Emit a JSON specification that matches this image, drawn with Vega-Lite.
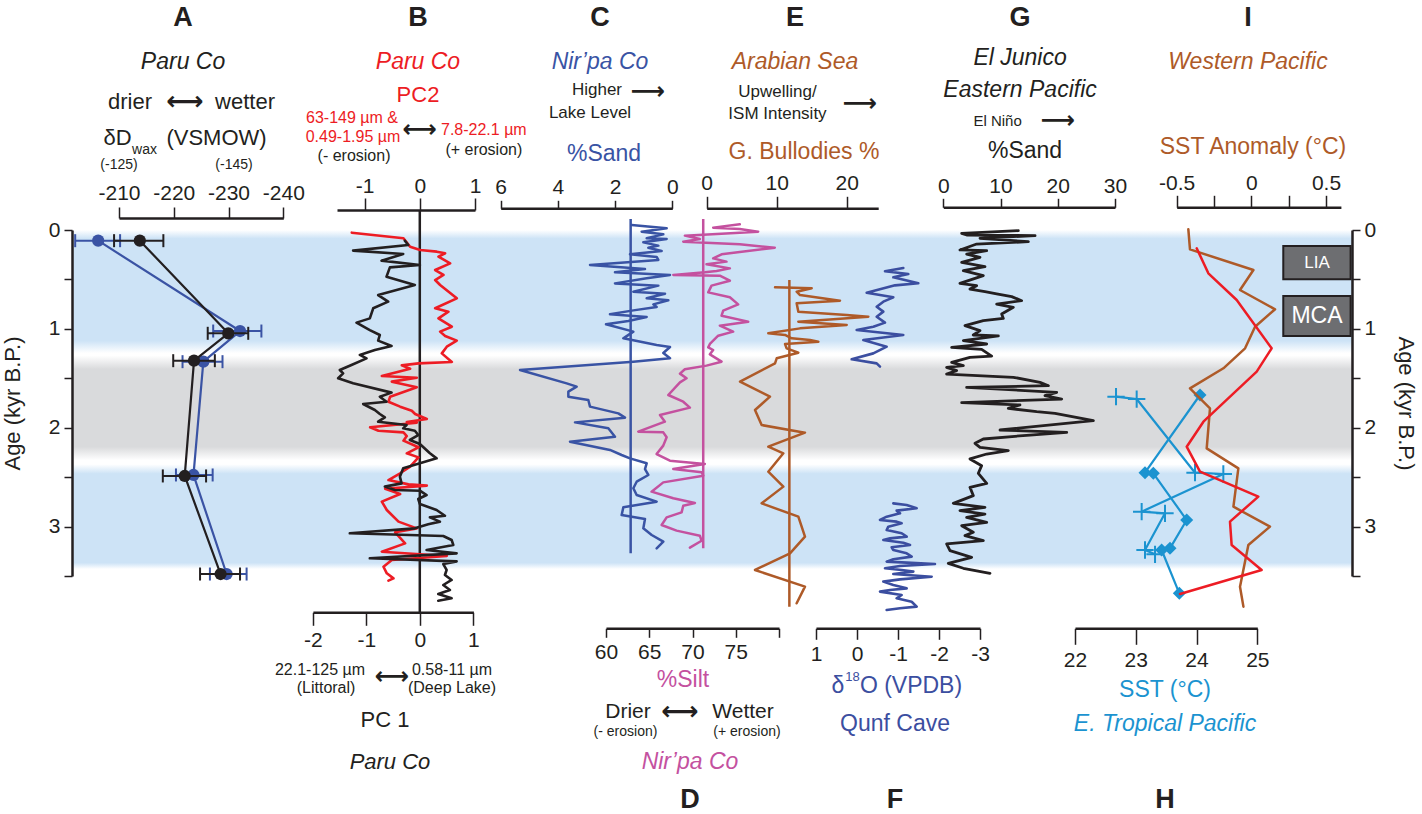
{
"$schema":"https://vega.github.io/schema/vega-lite/v6.json",
"width":1422,"height":814,"autosize":"none","padding":0,"background":"#ffffff",
"config":{"view":{"stroke":null},"font":"Liberation Sans",
 "axis":{"domainColor":"#231f20","domainWidth":2.5,"tickColor":"#231f20","tickWidth":1.5,"labelFont":"Liberation Sans","labelFontSize":21,"labelColor":"#231f20","labelFlush":false,"labelOverlap":false,"grid":false},
 "line":{"strokeJoin":"round","strokeCap":"round"}},
"encoding":{"y":{"field":"age","type":"quantitative","scale":{"domain":[0,3.5],"range":[230,576],"nice":false,"zero":false},"axis":null}},
"datasets":{
 "aBlack":[{"v":-213.8,"lo":-209.1,"hi":-218.1,"age":0.108},{"v":-229.95,"lo":-226.2,"hi":-233.6,"age":1.045},{"v":-223.7,"lo":-219.9,"hi":-227.5,"age":1.322},{"v":-222.0,"lo":-218.0,"hi":-225.9,"age":2.488},{"v":-228.55,"lo":-224.8,"hi":-232.1,"age":3.48}],
 "aBlue":[{"v":-206.2,"lo":-202.0,"hi":-210.2,"age":0.108},{"v":-232.1,"lo":-227.2,"hi":-236.0,"age":1.022},{"v":-225.4,"lo":-221.6,"hi":-228.9,"age":1.332},{"v":-223.6,"lo":-220.4,"hi":-227.1,"age":2.478},{"v":-229.65,"lo":-226.6,"hi":-233.3,"age":3.48}],
 "b1":[{"v":-0.281,"age":0.108},{"v":-0.218,"age":0.152},{"v":-1.248,"age":0.209},{"v":-0.312,"age":0.243},{"v":-0.717,"age":0.310},{"v":0.0,"age":0.354},{"v":-0.561,"age":0.378},{"v":-0.624,"age":0.472},{"v":-0.094,"age":0.556},{"v":-0.780,"age":0.658},{"v":-0.593,"age":0.725},{"v":-0.873,"age":0.792},{"v":-0.936,"age":0.894},{"v":-1.185,"age":0.937},{"v":-0.936,"age":1.012},{"v":-0.749,"age":1.062},{"v":-0.780,"age":1.119},{"v":-0.530,"age":1.173},{"v":-0.842,"age":1.214},{"v":-1.123,"age":1.264},{"v":-0.998,"age":1.298},{"v":-1.279,"age":1.366},{"v":-1.497,"age":1.416},{"v":-1.435,"age":1.450},{"v":-1.528,"age":1.500},{"v":-1.248,"age":1.551},{"v":-0.530,"age":1.645},{"v":-0.749,"age":1.686},{"v":-0.624,"age":1.737},{"v":-1.061,"age":1.760},{"v":-0.842,"age":1.821},{"v":-0.749,"age":1.861},{"v":-0.655,"age":1.895},{"v":-0.780,"age":1.939},{"v":-0.250,"age":1.973},{"v":-0.312,"age":2.006},{"v":-0.094,"age":2.030},{"v":-0.031,"age":2.074},{"v":-0.187,"age":2.124},{"v":0.0,"age":2.165},{"v":0.187,"age":2.259},{"v":0.312,"age":2.310},{"v":0.0,"age":2.360},{"v":-0.312,"age":2.411},{"v":-0.374,"age":2.495},{"v":-0.343,"age":2.563},{"v":-0.655,"age":2.596},{"v":-0.468,"age":2.630},{"v":0.0,"age":2.637},{"v":0.125,"age":2.681},{"v":-0.031,"age":2.721},{"v":0.0,"age":2.772},{"v":0.312,"age":2.832},{"v":0.468,"age":2.890},{"v":0.187,"age":2.907},{"v":0.374,"age":2.950},{"v":0.156,"age":2.977},{"v":-0.094,"age":3.018},{"v":-1.310,"age":3.068},{"v":0.437,"age":3.095},{"v":0.593,"age":3.136},{"v":0.624,"age":3.186},{"v":0.125,"age":3.237},{"v":0.686,"age":3.271},{"v":-0.936,"age":3.321},{"v":0.686,"age":3.352},{"v":0.437,"age":3.379},{"v":0.499,"age":3.439},{"v":0.468,"age":3.490},{"v":0.593,"age":3.540},{"v":0.437,"age":3.591},{"v":0.561,"age":3.642},{"v":0.343,"age":3.682},{"v":0.593,"age":3.726},{"v":0.343,"age":3.750}],
 "b2":[{"v":-1.232,"age":0.027},{"v":-0.296,"age":0.084},{"v":-0.175,"age":0.169},{"v":0.006,"age":0.202},{"v":0.308,"age":0.219},{"v":0.459,"age":0.236},{"v":0.338,"age":0.270},{"v":0.550,"age":0.337},{"v":0.278,"age":0.405},{"v":0.429,"age":0.455},{"v":0.278,"age":0.506},{"v":0.368,"age":0.556},{"v":0.670,"age":0.691},{"v":0.278,"age":0.792},{"v":0.519,"age":0.826},{"v":0.338,"age":0.894},{"v":0.580,"age":0.978},{"v":0.368,"age":1.028},{"v":0.459,"age":1.072},{"v":0.670,"age":1.119},{"v":0.489,"age":1.180},{"v":0.399,"age":1.248},{"v":0.580,"age":1.335},{"v":-0.024,"age":1.349},{"v":-0.326,"age":1.369},{"v":-0.175,"age":1.403},{"v":-0.688,"age":1.477},{"v":-0.054,"age":1.494},{"v":-0.507,"age":1.534},{"v":-0.054,"age":1.591},{"v":-0.537,"age":1.686},{"v":-0.568,"age":1.737},{"v":-0.356,"age":1.787},{"v":-0.145,"age":1.828},{"v":-0.085,"age":1.861},{"v":0.127,"age":1.912},{"v":-0.236,"age":1.942},{"v":-0.054,"age":1.949},{"v":-0.900,"age":1.996},{"v":-0.749,"age":2.030},{"v":-0.296,"age":2.047},{"v":-0.236,"age":2.084},{"v":-0.296,"age":2.131},{"v":-0.024,"age":2.198},{"v":-0.236,"age":2.259},{"v":-0.024,"age":2.300},{"v":-0.175,"age":2.394},{"v":-0.356,"age":2.461},{"v":-0.568,"age":2.529},{"v":-0.205,"age":2.573},{"v":0.127,"age":2.586},{"v":-0.628,"age":2.617},{"v":-0.356,"age":2.671},{"v":-0.688,"age":2.748},{"v":-0.598,"age":2.832},{"v":-0.386,"age":2.950},{"v":-0.054,"age":3.018},{"v":-0.447,"age":3.058},{"v":-0.266,"age":3.170},{"v":-0.688,"age":3.254},{"v":0.489,"age":3.298},{"v":-0.507,"age":3.338},{"v":-0.658,"age":3.406},{"v":-0.598,"age":3.473},{"v":-0.477,"age":3.524},{"v":-0.568,"age":3.547}],
 "c":[{"v":1.421,"age":-0.051},{"v":0.197,"age":-0.017},{"v":1.071,"age":0.017},{"v":0.314,"age":0.044},{"v":0.896,"age":0.084},{"v":0.197,"age":0.091},{"v":1.013,"age":0.125},{"v":0.488,"age":0.158},{"v":0.838,"age":0.179},{"v":0.372,"age":0.212},{"v":1.479,"age":0.246},{"v":0.547,"age":0.273},{"v":0.488,"age":0.303},{"v":2.878,"age":0.354},{"v":0.955,"age":0.395},{"v":2.004,"age":0.428},{"v":0.080,"age":0.455},{"v":0.896,"age":0.489},{"v":2.004,"age":0.540},{"v":0.488,"age":0.563},{"v":1.362,"age":0.624},{"v":0.255,"age":0.644},{"v":0.896,"age":0.691},{"v":0.139,"age":0.711},{"v":0.663,"age":0.752},{"v":0.547,"age":0.779},{"v":1.362,"age":0.813},{"v":2.179,"age":0.853},{"v":0.896,"age":0.880},{"v":1.537,"age":0.921},{"v":2.318,"age":0.954},{"v":1.362,"age":1.028},{"v":1.712,"age":1.096},{"v":1.362,"age":1.116},{"v":0.547,"age":1.163},{"v":0.080,"age":1.184},{"v":0.314,"age":1.244},{"v":0.080,"age":1.298},{"v":1.362,"age":1.332},{"v":5.325,"age":1.416},{"v":3.693,"age":1.551},{"v":3.344,"age":1.585},{"v":3.635,"age":1.635},{"v":3.635,"age":1.686},{"v":2.936,"age":1.720},{"v":2.878,"age":1.787},{"v":1.887,"age":1.855},{"v":1.654,"age":1.898},{"v":3.402,"age":1.946},{"v":2.237,"age":2.006},{"v":2.004,"age":2.091},{"v":3.577,"age":2.141},{"v":2.179,"age":2.225},{"v":1.771,"age":2.276},{"v":1.479,"age":2.310},{"v":0.896,"age":2.360},{"v":0.955,"age":2.418},{"v":0.838,"age":2.478},{"v":1.246,"age":2.546},{"v":1.362,"age":2.613},{"v":1.246,"age":2.681},{"v":0.547,"age":2.748},{"v":1.712,"age":2.805},{"v":1.771,"age":2.883},{"v":0.955,"age":2.923},{"v":1.013,"age":3.018},{"v":0.721,"age":3.085},{"v":0.314,"age":3.153},{"v":0.547,"age":3.220}],
 "d":[{"v":75.47,"age":-0.057},{"v":72.39,"age":-0.024},{"v":75.47,"age":-0.010},{"v":77.59,"age":0.017},{"v":69.12,"age":0.057},{"v":70.85,"age":0.091},{"v":68.93,"age":0.118},{"v":75.47,"age":0.145},{"v":79.51,"age":0.179},{"v":73.36,"age":0.246},{"v":72.39,"age":0.287},{"v":73.93,"age":0.320},{"v":71.62,"age":0.347},{"v":74.32,"age":0.388},{"v":72.78,"age":0.415},{"v":71.43,"age":0.428},{"v":67.78,"age":0.455},{"v":73.16,"age":0.462},{"v":74.32,"age":0.513},{"v":72.20,"age":0.563},{"v":71.82,"age":0.631},{"v":74.32,"age":0.681},{"v":75.28,"age":0.752},{"v":73.55,"age":0.816},{"v":73.36,"age":0.867},{"v":76.44,"age":0.927},{"v":73.16,"age":0.968},{"v":74.70,"age":1.028},{"v":72.97,"age":1.069},{"v":72.01,"age":1.153},{"v":71.82,"age":1.187},{"v":72.39,"age":1.214},{"v":72.01,"age":1.258},{"v":73.36,"age":1.332},{"v":71.62,"age":1.372},{"v":69.12,"age":1.409},{"v":68.55,"age":1.453},{"v":69.31,"age":1.500},{"v":68.55,"age":1.541},{"v":67.20,"age":1.669},{"v":68.93,"age":1.737},{"v":69.70,"age":1.797},{"v":66.24,"age":1.871},{"v":66.81,"age":1.939},{"v":63.73,"age":2.040},{"v":66.62,"age":2.047},{"v":67.01,"age":2.097},{"v":66.62,"age":2.181},{"v":65.85,"age":2.266},{"v":67.39,"age":2.333},{"v":71.43,"age":2.367},{"v":67.78,"age":2.418},{"v":71.05,"age":2.451},{"v":71.24,"age":2.485},{"v":66.62,"age":2.553},{"v":65.27,"age":2.647},{"v":67.78,"age":2.714},{"v":70.28,"age":2.761},{"v":68.93,"age":2.789},{"v":68.74,"age":2.856},{"v":67.01,"age":2.907},{"v":66.43,"age":2.984},{"v":68.16,"age":3.041},{"v":70.85,"age":3.092},{"v":71.05,"age":3.143},{"v":69.70,"age":3.213}],
 "e":[{"v":9.76,"age":0.58},{"v":15.0,"age":0.59},{"v":12.85,"age":0.624},{"v":13.33,"age":0.658},{"v":19.04,"age":0.715},{"v":12.85,"age":0.742},{"v":13.09,"age":0.826},{"v":20.0,"age":0.860},{"v":23.09,"age":0.877},{"v":13.09,"age":0.927},{"v":20.0,"age":0.961},{"v":13.33,"age":0.995},{"v":8.80,"age":1.045},{"v":11.19,"age":1.062},{"v":12.14,"age":1.096},{"v":14.76,"age":1.113},{"v":15.95,"age":1.130},{"v":11.19,"age":1.153},{"v":11.42,"age":1.197},{"v":13.09,"age":1.241},{"v":10.0,"age":1.298},{"v":9.76,"age":1.349},{"v":4.76,"age":1.534},{"v":9.04,"age":1.686},{"v":6.90,"age":1.821},{"v":7.85,"age":1.973},{"v":14.04,"age":2.050},{"v":8.80,"age":2.192},{"v":10.95,"age":2.259},{"v":8.80,"age":2.445},{"v":10.95,"age":2.596},{"v":7.85,"age":2.765},{"v":13.09,"age":2.900},{"v":14.04,"age":3.102},{"v":11.90,"age":3.271},{"v":6.90,"age":3.439},{"v":14.04,"age":3.608},{"v":12.85,"age":3.776}],
 "f":[{"seg":"a","v":-1.130,"age":0.384},{"seg":"a","v":-0.683,"age":0.418},{"seg":"a","v":-1.252,"age":0.445},{"seg":"a","v":-0.886,"age":0.479},{"seg":"a","v":-1.496,"age":0.539},{"seg":"a","v":-0.927,"age":0.560},{"seg":"a","v":-0.236,"age":0.634},{"seg":"a","v":-0.886,"age":0.681},{"seg":"a","v":-0.642,"age":0.725},{"seg":"a","v":-0.480,"age":0.776},{"seg":"a","v":-0.642,"age":0.826},{"seg":"a","v":-0.480,"age":0.877},{"seg":"a","v":-0.683,"age":0.937},{"seg":"a","v":-0.398,"age":0.978},{"seg":"a","v":0.008,"age":1.012},{"seg":"a","v":-1.130,"age":1.062},{"seg":"a","v":-0.154,"age":1.113},{"seg":"a","v":-0.724,"age":1.180},{"seg":"a","v":-0.398,"age":1.248},{"seg":"a","v":0.130,"age":1.308},{"seg":"a","v":-0.480,"age":1.349},{"seg":"a","v":-0.561,"age":1.382},
  {"seg":"b","v":-0.886,"age":2.765},{"seg":"b","v":-1.211,"age":2.782},{"seg":"b","v":-1.455,"age":2.815},{"seg":"b","v":-0.967,"age":2.839},{"seg":"b","v":-1.049,"age":2.866},{"seg":"b","v":-0.724,"age":2.900},{"seg":"b","v":-0.561,"age":2.933},{"seg":"b","v":-0.967,"age":2.950},{"seg":"b","v":-1.089,"age":2.967},{"seg":"b","v":-0.764,"age":3.001},{"seg":"b","v":-0.724,"age":3.035},{"seg":"b","v":-1.089,"age":3.068},{"seg":"b","v":-1.211,"age":3.102},{"seg":"b","v":-0.805,"age":3.119},{"seg":"b","v":-0.642,"age":3.136},{"seg":"b","v":-1.130,"age":3.163},{"seg":"b","v":-1.293,"age":3.186},{"seg":"b","v":-0.846,"age":3.210},{"seg":"b","v":-0.886,"age":3.237},{"seg":"b","v":-1.211,"age":3.271},{"seg":"b","v":-1.333,"age":3.304},{"seg":"b","v":-0.886,"age":3.331},{"seg":"b","v":-0.724,"age":3.355},{"seg":"b","v":-1.211,"age":3.365},{"seg":"b","v":-1.902,"age":3.379},{"seg":"b","v":-1.049,"age":3.399},{"seg":"b","v":-0.683,"age":3.422},{"seg":"b","v":-1.089,"age":3.439},{"seg":"b","v":-1.374,"age":3.456},{"seg":"b","v":-0.886,"age":3.480},{"seg":"b","v":-1.821,"age":3.507},{"seg":"b","v":-1.049,"age":3.534},{"seg":"b","v":-0.642,"age":3.557},{"seg":"b","v":-0.886,"age":3.591},{"seg":"b","v":-1.211,"age":3.625},{"seg":"b","v":-0.805,"age":3.642},{"seg":"b","v":-0.561,"age":3.658},{"seg":"b","v":-1.089,"age":3.692},{"seg":"b","v":-0.967,"age":3.726},{"seg":"b","v":-1.333,"age":3.760},{"seg":"b","v":-1.455,"age":3.810},{"seg":"b","v":-1.049,"age":3.827},{"seg":"b","v":-0.724,"age":3.844}],
 "g":[{"v":13.11,"age":0.007},{"v":3.21,"age":0.034},{"v":4.08,"age":0.051},{"v":16.03,"age":0.057},{"v":6.41,"age":0.084},{"v":14.86,"age":0.118},{"v":5.83,"age":0.142},{"v":2.91,"age":0.202},{"v":7.58,"age":0.209},{"v":4.08,"age":0.243},{"v":6.41,"age":0.276},{"v":3.21,"age":0.327},{"v":7.28,"age":0.371},{"v":3.50,"age":0.411},{"v":6.99,"age":0.462},{"v":2.91,"age":0.540},{"v":5.83,"age":0.563},{"v":4.66,"age":0.597},{"v":7.28,"age":0.624},{"v":9.32,"age":0.647},{"v":11.95,"age":0.674},{"v":13.69,"age":0.715},{"v":9.32,"age":0.749},{"v":12.24,"age":0.782},{"v":10.20,"age":0.850},{"v":10.49,"age":0.894},{"v":6.99,"age":0.917},{"v":3.79,"age":0.968},{"v":6.41,"age":1.018},{"v":5.24,"age":1.062},{"v":9.62,"age":1.072},{"v":3.50,"age":1.119},{"v":7.58,"age":1.153},{"v":1.46,"age":1.187},{"v":6.70,"age":1.207},{"v":8.45,"age":1.275},{"v":4.66,"age":1.288},{"v":1.46,"age":1.339},{"v":3.50,"age":1.372},{"v":0.58,"age":1.389},{"v":2.33,"age":1.423},{"v":0.58,"age":1.457},{"v":12.24,"age":1.490},{"v":16.90,"age":1.541},{"v":18.36,"age":1.575},{"v":4.08,"age":1.592},{"v":19.81,"age":1.642},{"v":17.77,"age":1.676},{"v":20.69,"age":1.710},{"v":3.21,"age":1.747},{"v":13.40,"age":1.770},{"v":11.36,"age":1.804},{"v":16.32,"age":1.838},{"v":19.52,"age":1.855},{"v":26.22,"age":1.929},{"v":9.91,"age":2.023},{"v":21.56,"age":2.047},{"v":15.15,"age":2.074},{"v":6.99,"age":2.114},{"v":5.54,"age":2.158},{"v":6.41,"age":2.198},{"v":11.36,"age":2.232},{"v":7.58,"age":2.266},{"v":4.66,"age":2.316},{"v":6.70,"age":2.384},{"v":6.12,"age":2.461},{"v":7.58,"age":2.563},{"v":4.66,"age":2.603},{"v":5.24,"age":2.687},{"v":1.75,"age":2.765},{"v":7.28,"age":2.805},{"v":2.91,"age":2.839},{"v":7.28,"age":2.873},{"v":4.08,"age":2.907},{"v":7.58,"age":2.957},{"v":3.21,"age":2.991},{"v":5.24,"age":3.058},{"v":3.79,"age":3.092},{"v":6.99,"age":3.143},{"v":0.58,"age":3.176},{"v":1.17,"age":3.244},{"v":4.95,"age":3.311},{"v":0.87,"age":3.372},{"v":3.50,"age":3.422},{"v":8.16,"age":3.473}],
 "hc":[{"v":22.675,"age":1.686},{"v":23.015,"age":1.710},{"v":23.975,"age":2.455},{"v":24.441,"age":2.468},{"v":23.097,"age":2.849},{"v":23.481,"age":2.866},{"v":23.152,"age":3.237},{"v":23.317,"age":3.281}],
 "hd":[{"v":24.057,"age":1.669},{"v":23.152,"age":2.455},{"v":23.289,"age":2.461},{"v":23.838,"age":2.934},{"v":23.563,"age":3.220},{"v":23.426,"age":3.237},{"v":23.717,"age":3.675}],
 "ib":[{"v":-0.422,"age":-0.007},{"v":-0.411,"age":0.196},{"v":0.014,"age":0.405},{"v":-0.076,"age":0.607},{"v":0.159,"age":0.802},{"v":0.025,"age":0.978},{"v":-0.042,"age":1.197},{"v":-0.187,"age":1.399},{"v":-0.411,"age":1.602},{"v":-0.277,"age":1.804},{"v":-0.299,"age":2.209},{"v":-0.087,"age":2.411},{"v":-0.120,"age":2.799},{"v":0.125,"age":3.001},{"v":-0.020,"age":3.186},{"v":-0.076,"age":3.608},{"v":-0.053,"age":3.810}],
 "ir":[{"v":-0.366,"age":0.185},{"v":-0.288,"age":0.438},{"v":-0.098,"age":0.708},{"v":0.136,"age":1.197},{"v":0.036,"age":1.433},{"v":-0.321,"age":1.939},{"v":-0.433,"age":2.192},{"v":-0.344,"age":2.445},{"v":0.047,"age":2.697},{"v":-0.143,"age":2.950},{"v":-0.132,"age":3.186},{"v":0.069,"age":3.439},{"v":-0.478,"age":3.682}]
},
"layer":[
 {"data":{"values":[{"age":0.0,"age2":1.245}]},"mark":{"type":"rect","fill":{"gradient":"linear","x1":0,"y1":0,"x2":0,"y2":1,"stops":[{"offset":0,"color":"#ffffff"},{"offset":0.07,"color":"#cde3f6"},{"offset":0.9,"color":"#cde3f6"},{"offset":1,"color":"#ffffff"}]}},
  "encoding":{"x":{"datum":0,"type":"quantitative","scale":{"domain":[0,1],"range":[72,1352],"nice":false,"zero":false},"axis":null},"x2":{"datum":1},"y2":{"field":"age2"},
   "y":{"field":"age","type":"quantitative","scale":{"domain":[0,3.5],"range":[230,576],"nice":false,"zero":false},"axis":{"orient":"left","offset":-72,"zindex":1,"values":[0,0.5,1,1.5,2,2.5,3,3.5],"labelExpr":"datum.value % 1 === 0 ? format(datum.value, 'd') : ''","tickSize":8,"labelPadding":4,"title":"Age (kyr B.P.)","titleFont":"Liberation Sans","titleFontSize":22,"titleFontWeight":"normal","titleColor":"#231f20","titleX":-60,"titleY":403,"titleBaseline":"middle"}}}},
 {"data":{"values":[{"age":1.27,"age2":2.33}]},"mark":{"type":"rect","fill":{"gradient":"linear","x1":0,"y1":0,"x2":0,"y2":1,"stops":[{"offset":0,"color":"#ffffff"},{"offset":0.13,"color":"#d9dadc"},{"offset":0.87,"color":"#d9dadc"},{"offset":1,"color":"#ffffff"}]}},
  "encoding":{"x":{"datum":0,"type":"quantitative","scale":{"domain":[0,1],"range":[72,1352],"nice":false,"zero":false},"axis":null},"x2":{"datum":1},"y2":{"field":"age2"},
   "y":{"field":"age","type":"quantitative","scale":{"domain":[0,3.5],"range":[230,576],"nice":false,"zero":false},"axis":{"orient":"right","offset":-70,"zindex":1,"values":[0,0.5,1,1.5,2,2.5,3,3.5],"labelExpr":"datum.value % 1 === 0 ? format(datum.value, 'd') : ''","tickSize":8,"labelPadding":4,"title":"Age (kyr B.P.)","titleFont":"Liberation Sans","titleFontSize":22,"titleFontWeight":"normal","titleColor":"#231f20","titleX":53,"titleY":403,"titleBaseline":"middle"}}}},
 {"data":{"values":[{"age":2.37,"age2":3.43}]},"mark":{"type":"rect","fill":{"gradient":"linear","x1":0,"y1":0,"x2":0,"y2":1,"stops":[{"offset":0,"color":"#ffffff"},{"offset":0.09,"color":"#cde3f6"},{"offset":0.94,"color":"#cde3f6"},{"offset":1,"color":"#ffffff"}]}},
  "encoding":{"x":{"datum":0,"type":"quantitative","scale":{"domain":[0,1],"range":[72,1352],"nice":false,"zero":false},"axis":null},"x2":{"datum":1},"y2":{"field":"age2"}}},
 {"encoding":{"x":{"field":"v","type":"quantitative","scale":{"domain":[-240,-210],"range":[283.3,119],"nice":false,"zero":false},"axis":{"orient":"top","offset":-218,"values":[-210,-220,-230,-240],"labelExpr":"(datum.value < 0 ? '-' : '') + format(abs(datum.value), '~g')","tickSize":11,"labelPadding":4,"title":null}}},
  "layer":[
   {"data":{"name":"aBlue"},"mark":{"type":"rule","color":"#3a53a4","strokeWidth":2},"encoding":{"x":{"field":"lo","type":"quantitative","scale":{"domain":[-240,-210],"range":[283.3,119],"nice":false,"zero":false},"axis":{"orient":"top","offset":-218,"values":[-210,-220,-230,-240],"labelExpr":"(datum.value < 0 ? '-' : '') + format(abs(datum.value), '~g')","tickSize":11,"labelPadding":4,"title":null}},"x2":{"field":"hi"}}},
   {"data":{"name":"aBlue"},"mark":{"type":"tick","orient":"vertical","color":"#3a53a4","size":13,"thickness":2,"opacity":1},"encoding":{"x":{"field":"lo","type":"quantitative","scale":{"domain":[-240,-210],"range":[283.3,119],"nice":false,"zero":false},"axis":{"orient":"top","offset":-218,"values":[-210,-220,-230,-240],"labelExpr":"(datum.value < 0 ? '-' : '') + format(abs(datum.value), '~g')","tickSize":11,"labelPadding":4,"title":null}}}},
   {"data":{"name":"aBlue"},"mark":{"type":"tick","orient":"vertical","color":"#3a53a4","size":13,"thickness":2,"opacity":1},"encoding":{"x":{"field":"hi","type":"quantitative","scale":{"domain":[-240,-210],"range":[283.3,119],"nice":false,"zero":false},"axis":{"orient":"top","offset":-218,"values":[-210,-220,-230,-240],"labelExpr":"(datum.value < 0 ? '-' : '') + format(abs(datum.value), '~g')","tickSize":11,"labelPadding":4,"title":null}}}},
   {"data":{"name":"aBlue"},"mark":{"type":"line","color":"#3a53a4","strokeWidth":2.2},"encoding":{"order":{"field":"age","type":"quantitative"}}},
   {"data":{"name":"aBlue"},"mark":{"type":"point","shape":"circle","filled":true,"size":150,"color":"#3a53a4","opacity":1}},
   {"data":{"name":"aBlack"},"mark":{"type":"rule","color":"#231f20","strokeWidth":2},"encoding":{"x":{"field":"lo","type":"quantitative","scale":{"domain":[-240,-210],"range":[283.3,119],"nice":false,"zero":false},"axis":{"orient":"top","offset":-218,"values":[-210,-220,-230,-240],"labelExpr":"(datum.value < 0 ? '-' : '') + format(abs(datum.value), '~g')","tickSize":11,"labelPadding":4,"title":null}},"x2":{"field":"hi"}}},
   {"data":{"name":"aBlack"},"mark":{"type":"tick","orient":"vertical","color":"#231f20","size":13,"thickness":2,"opacity":1},"encoding":{"x":{"field":"lo","type":"quantitative","scale":{"domain":[-240,-210],"range":[283.3,119],"nice":false,"zero":false},"axis":{"orient":"top","offset":-218,"values":[-210,-220,-230,-240],"labelExpr":"(datum.value < 0 ? '-' : '') + format(abs(datum.value), '~g')","tickSize":11,"labelPadding":4,"title":null}}}},
   {"data":{"name":"aBlack"},"mark":{"type":"tick","orient":"vertical","color":"#231f20","size":13,"thickness":2,"opacity":1},"encoding":{"x":{"field":"hi","type":"quantitative","scale":{"domain":[-240,-210],"range":[283.3,119],"nice":false,"zero":false},"axis":{"orient":"top","offset":-218,"values":[-210,-220,-230,-240],"labelExpr":"(datum.value < 0 ? '-' : '') + format(abs(datum.value), '~g')","tickSize":11,"labelPadding":4,"title":null}}}},
   {"data":{"name":"aBlack"},"mark":{"type":"line","color":"#231f20","strokeWidth":2.2},"encoding":{"order":{"field":"age","type":"quantitative"}}},
   {"data":{"name":"aBlack"},"mark":{"type":"point","shape":"circle","filled":true,"size":150,"color":"#231f20","opacity":1}},
   {"data":{"values":[{"v":-221.69,"age":-2.145,"t":"A"}]},"mark":{"type":"text","font":"Liberation Sans","fontSize":27,"fontWeight":"bold","color":"#231f20","align":"center","baseline":"middle"},"encoding":{"text":{"field":"t"}}},
   {"data":{"values":[{"v":-221.69,"age":-1.699,"t":"Paru Co"}]},"mark":{"type":"text","font":"Liberation Sans","fontSize":23,"fontStyle":"italic","color":"#231f20","align":"center","baseline":"middle"},"encoding":{"text":{"field":"t"}}},
   {"data":{"values":[{"v":-212.01,"age":-1.295,"t":"drier"},{"v":-233.01,"age":-1.295,"t":"wetter"},{"v":-209.73,"age":-0.931,"t":"δD"},{"v":-227.8,"age":-0.931,"t":"(VSMOW)"}]},"mark":{"type":"text","font":"Liberation Sans","fontSize":22,"color":"#231f20","align":"center","baseline":"middle"},"encoding":{"text":{"field":"t"}}},
   {"data":{"values":[{"v":-214.66,"age":-0.809,"t":"wax"},{"v":-210.0,"age":-0.658,"t":"(-125)"},{"v":-231.0,"age":-0.658,"t":"(-145)"}]},"mark":{"type":"text","font":"Liberation Sans","fontSize":14,"color":"#231f20","align":"center","baseline":"middle"},"encoding":{"text":{"field":"t"}}},
   {"data":{"values":[{"v":-222.05,"age":-1.295,"t":"⟷"}]},"mark":{"type":"text","font":"DejaVu Sans","fontSize":26,"fontWeight":"bold","color":"#231f20","align":"center","baseline":"middle"},"encoding":{"text":{"field":"t"}}}
  ]},
 {"encoding":{"x":{"field":"v","type":"quantitative","scale":{"domain":[-1.5,1],"range":[337,475],"nice":false,"zero":false},"axis":{"orient":"top","offset":-210,"values":[-1,0,1],"labelExpr":"(datum.value < 0 ? '-' : '') + format(abs(datum.value), '~g')","tickSize":12,"labelPadding":2,"title":null}}},
  "layer":[
   {"data":{"values":[{"v":0,"age":-0.2,"age2":3.864}]},"mark":{"type":"rule","color":"#231f20","strokeWidth":2.5},"encoding":{"y2":{"field":"age2"}}},
   {"data":{"name":"b2"},"mark":{"type":"line","color":"#ed1c24","strokeWidth":2.6},"encoding":{"order":{"field":"age","type":"quantitative"}}},
   {"data":{"values":[{"v":-0.033,"age":-2.145,"t":"B"}]},"mark":{"type":"text","font":"Liberation Sans","fontSize":27,"fontWeight":"bold","color":"#231f20","align":"center","baseline":"middle"},"encoding":{"text":{"field":"t"}}},
   {"data":{"values":[{"v":-0.033,"age":-1.699,"t":"Paru Co"}]},"mark":{"type":"text","font":"Liberation Sans","fontSize":23,"fontStyle":"italic","color":"#ed1c24","align":"center","baseline":"middle"},"encoding":{"text":{"field":"t"}}},
   {"data":{"values":[{"v":-0.033,"age":-1.366,"t":"PC2"}]},"mark":{"type":"text","font":"Liberation Sans","fontSize":22,"color":"#ed1c24","align":"center","baseline":"middle"},"encoding":{"text":{"field":"t"}}},
   {"data":{"values":[{"v":-1.228,"age":-1.133,"t":"63-149 µm &"},{"v":-1.21,"age":-0.941,"t":"0.49-1.95 µm"},{"v":1.16,"age":-1.012,"t":"7.8-22.1 µm"}]},"mark":{"type":"text","font":"Liberation Sans","fontSize":16,"color":"#ed1c24","align":"center","baseline":"middle"},"encoding":{"text":{"field":"t"}}},
   {"data":{"values":[{"v":-1.192,"age":-0.749,"t":"(- erosion)"},{"v":1.16,"age":-0.809,"t":"(+ erosion)"}]},"mark":{"type":"text","font":"Liberation Sans","fontSize":16,"color":"#231f20","align":"center","baseline":"middle"},"encoding":{"text":{"field":"t"}}},
   {"data":{"values":[{"v":0.0,"age":-1.012,"t":"⟷"}]},"mark":{"type":"text","font":"DejaVu Sans","fontSize":24,"fontWeight":"bold","color":"#231f20","align":"center","baseline":"middle"},"encoding":{"text":{"field":"t"}}}
  ]},
 {"encoding":{"x":{"field":"v","type":"quantitative","scale":{"domain":[-2,1],"range":[312.9,473.4],"nice":false,"zero":false},"axis":{"orient":"bottom","offset":-201.7,"values":[-2,-1,0,1],"labelExpr":"(datum.value < 0 ? '-' : '') + format(abs(datum.value), '~g')","tickSize":13,"labelPadding":4,"title":null}}},
  "layer":[
   {"data":{"name":"b1"},"mark":{"type":"line","color":"#231f20","strokeWidth":2.6},"encoding":{"order":{"field":"age","type":"quantitative"}}},
   {"data":{"values":[{"v":-1.867,"age":4.451,"t":"22.1-125 µm"},{"v":-1.754,"age":4.633,"t":"(Littoral)"},{"v":0.6,"age":4.451,"t":"0.58-11 µm"},{"v":0.6,"age":4.633,"t":"(Deep Lake)"}]},"mark":{"type":"text","font":"Liberation Sans","fontSize":16,"color":"#231f20","align":"center","baseline":"middle"},"encoding":{"text":{"field":"t"}}},
   {"data":{"values":[{"v":-0.521,"age":4.522,"t":"⟷"}]},"mark":{"type":"text","font":"DejaVu Sans","fontSize":24,"fontWeight":"bold","color":"#231f20","align":"center","baseline":"middle"},"encoding":{"text":{"field":"t"}}},
   {"data":{"values":[{"v":-0.652,"age":4.957,"t":"PC 1"}]},"mark":{"type":"text","font":"Liberation Sans","fontSize":22,"color":"#231f20","align":"center","baseline":"middle"},"encoding":{"text":{"field":"t"}}},
   {"data":{"values":[{"v":-0.559,"age":5.381,"t":"Paru Co"}]},"mark":{"type":"text","font":"Liberation Sans","fontSize":22,"fontStyle":"italic","color":"#231f20","align":"center","baseline":"middle"},"encoding":{"text":{"field":"t"}}}
  ]},
 {"encoding":{"x":{"field":"v","type":"quantitative","scale":{"domain":[0,6],"range":[672.3,500.7],"nice":false,"zero":false},"axis":{"orient":"top","offset":-208.3,"values":[0,2,4,6],"tickSize":8,"labelPadding":3,"title":null}}},
  "layer":[
   {"data":{"values":[{"v":1.456,"age":-0.111,"age2":3.271}]},"mark":{"type":"rule","color":"#3953a4","strokeWidth":2.5},"encoding":{"y2":{"field":"age2"}}},
   {"data":{"name":"c"},"mark":{"type":"line","color":"#3953a4","strokeWidth":2.5},"encoding":{"order":{"field":"age","type":"quantitative"}}},
   {"data":{"values":[{"v":2.528,"age":-2.145,"t":"C"}]},"mark":{"type":"text","font":"Liberation Sans","fontSize":27,"fontWeight":"bold","color":"#231f20","align":"center","baseline":"middle"},"encoding":{"text":{"field":"t"}}},
   {"data":{"values":[{"v":2.528,"age":-1.699,"t":"Nir’pa Co"}]},"mark":{"type":"text","font":"Liberation Sans","fontSize":23,"fontStyle":"italic","color":"#3953a4","align":"center","baseline":"middle"},"encoding":{"text":{"field":"t"}}},
   {"data":{"values":[{"v":2.633,"age":-1.416,"t":"Higher"},{"v":2.878,"age":-1.184,"t":"Lake Level"}]},"mark":{"type":"text","font":"Liberation Sans","fontSize":17,"color":"#231f20","align":"center","baseline":"middle"},"encoding":{"text":{"field":"t"}}},
   {"data":{"values":[{"v":0.85,"age":-1.396,"t":"⟶"}]},"mark":{"type":"text","font":"DejaVu Sans","fontSize":24,"fontWeight":"bold","color":"#231f20","align":"center","baseline":"middle"},"encoding":{"text":{"field":"t"}}},
   {"data":{"values":[{"v":2.388,"age":-0.769,"t":"%Sand"}]},"mark":{"type":"text","font":"Liberation Sans","fontSize":23,"color":"#3953a4","align":"center","baseline":"middle"},"encoding":{"text":{"field":"t"}}}
  ]},
 {"encoding":{"x":{"field":"v","type":"quantitative","scale":{"domain":[60,80],"range":[606,779],"nice":false,"zero":false},"axis":{"orient":"bottom","offset":-185.7,"values":[60,65,70,75,80],"labelExpr":"datum.value == 80 ? '' : datum.label","tickSize":9,"labelPadding":4,"title":null}}},
  "layer":[
   {"data":{"values":[{"v":71.24,"age":-0.111,"age2":3.22}]},"mark":{"type":"rule","color":"#c4519f","strokeWidth":2.5},"encoding":{"y2":{"field":"age2"}}},
   {"data":{"name":"d"},"mark":{"type":"line","color":"#c4519f","strokeWidth":2.5},"encoding":{"order":{"field":"age","type":"quantitative"}}},
   {"data":{"values":[{"v":68.9,"age":4.552,"t":"%Silt"}]},"mark":{"type":"text","font":"Liberation Sans","fontSize":23,"color":"#c4519f","align":"center","baseline":"middle"},"encoding":{"text":{"field":"t"}}},
   {"data":{"values":[{"v":62.54,"age":4.876,"t":"Drier"},{"v":75.84,"age":4.876,"t":"Wetter"}]},"mark":{"type":"text","font":"Liberation Sans","fontSize":21,"color":"#231f20","align":"center","baseline":"middle"},"encoding":{"text":{"field":"t"}}},
   {"data":{"values":[{"v":68.55,"age":4.876,"t":"⟷"}]},"mark":{"type":"text","font":"DejaVu Sans","fontSize":26,"fontWeight":"bold","color":"#231f20","align":"center","baseline":"middle"},"encoding":{"text":{"field":"t"}}},
   {"data":{"values":[{"v":62.25,"age":5.078,"t":"(- erosion)"},{"v":76.3,"age":5.078,"t":"(+ erosion)"}]},"mark":{"type":"text","font":"Liberation Sans","fontSize":14,"color":"#231f20","align":"center","baseline":"middle"},"encoding":{"text":{"field":"t"}}},
   {"data":{"values":[{"v":69.71,"age":5.381,"t":"Nir’pa Co"}]},"mark":{"type":"text","font":"Liberation Sans","fontSize":23,"fontStyle":"italic","color":"#c4519f","align":"center","baseline":"middle"},"encoding":{"text":{"field":"t"}}},
   {"data":{"values":[{"v":69.71,"age":5.766,"t":"D"}]},"mark":{"type":"text","font":"Liberation Sans","fontSize":27,"fontWeight":"bold","color":"#231f20","align":"center","baseline":"middle"},"encoding":{"text":{"field":"t"}}}
  ]},
 {"encoding":{"x":{"field":"v","type":"quantitative","scale":{"domain":[0,24.5],"range":[706.7,878.2],"nice":false,"zero":false},"axis":{"orient":"top","offset":-208.3,"values":[0,10,20],"tickSize":12,"labelPadding":3,"title":null}}},
  "layer":[
   {"data":{"values":[{"v":11.81,"age":0.506,"age2":3.81}]},"mark":{"type":"rule","color":"#ae5a28","strokeWidth":2.5},"encoding":{"y2":{"field":"age2"}}},
   {"data":{"name":"e"},"mark":{"type":"line","color":"#ae5a28","strokeWidth":2.5},"encoding":{"order":{"field":"age","type":"quantitative"}}},
   {"data":{"values":[{"v":12.61,"age":-2.145,"t":"E"}]},"mark":{"type":"text","font":"Liberation Sans","fontSize":27,"fontWeight":"bold","color":"#231f20","align":"center","baseline":"middle"},"encoding":{"text":{"field":"t"}}},
   {"data":{"values":[{"v":12.61,"age":-1.699,"t":"Arabian Sea"}]},"mark":{"type":"text","font":"Liberation Sans","fontSize":23,"fontStyle":"italic","color":"#ae5a28","align":"center","baseline":"middle"},"encoding":{"text":{"field":"t"}}},
   {"data":{"values":[{"v":10.11,"age":-1.396,"t":"Upwelling/"},{"v":10.11,"age":-1.173,"t":"ISM Intensity"}]},"mark":{"type":"text","font":"Liberation Sans","fontSize":17,"color":"#231f20","align":"center","baseline":"middle"},"encoding":{"text":{"field":"t"}}},
   {"data":{"values":[{"v":21.9,"age":-1.275,"t":"⟶"}]},"mark":{"type":"text","font":"DejaVu Sans","fontSize":24,"fontWeight":"bold","color":"#231f20","align":"center","baseline":"middle"},"encoding":{"text":{"field":"t"}}},
   {"data":{"values":[{"v":13.9,"age":-0.789,"t":"G. Bullodies %"}]},"mark":{"type":"text","font":"Liberation Sans","fontSize":23,"color":"#ae5a28","align":"center","baseline":"middle"},"encoding":{"text":{"field":"t"}}}
  ]},
 {"encoding":{"x":{"field":"v","type":"quantitative","scale":{"domain":[-3,1],"range":[980,816],"nice":false,"zero":false},"axis":{"orient":"bottom","offset":-185.7,"values":[1,0,-1,-2,-3],"labelExpr":"(datum.value < 0 ? '-' : '') + format(abs(datum.value), '~g')","tickSize":11,"labelPadding":4,"title":null}}},
  "layer":[
   {"data":{"name":"f"},"mark":{"type":"line","color":"#3b4ea0","strokeWidth":2.6},"encoding":{"detail":{"field":"seg"},"order":{"field":"age","type":"quantitative"}}},
   {"data":{"values":[{"v":0.463,"age":4.613,"t":"δ"},{"v":-1.317,"age":4.613,"t":"O (VPDB)"},{"v":-0.927,"age":4.997,"t":"Qunf Cave"}]},"mark":{"type":"text","font":"Liberation Sans","fontSize":23,"color":"#3b4ea0","align":"center","baseline":"middle"},"encoding":{"text":{"field":"t"}}},
   {"data":{"values":[{"v":0.11,"age":4.522,"t":"18"}]},"mark":{"type":"text","font":"Liberation Sans","fontSize":13,"color":"#3b4ea0","align":"center","baseline":"middle"},"encoding":{"text":{"field":"t"}}},
   {"data":{"values":[{"v":-0.927,"age":5.766,"t":"F"}]},"mark":{"type":"text","font":"Liberation Sans","fontSize":27,"fontWeight":"bold","color":"#231f20","align":"center","baseline":"middle"},"encoding":{"text":{"field":"t"}}}
  ]},
 {"encoding":{"x":{"field":"v","type":"quantitative","scale":{"domain":[0,30],"range":[943.3,1115],"nice":false,"zero":false},"axis":{"orient":"top","offset":-207.3,"values":[0,10,20,30],"tickSize":9,"labelPadding":2,"title":null}}},
  "layer":[
   {"data":{"name":"g"},"mark":{"type":"line","color":"#231f20","strokeWidth":2.8},"encoding":{"order":{"field":"age","type":"quantitative"}}},
   {"data":{"values":[{"v":13.41,"age":-2.145,"t":"G"}]},"mark":{"type":"text","font":"Liberation Sans","fontSize":27,"fontWeight":"bold","color":"#231f20","align":"center","baseline":"middle"},"encoding":{"text":{"field":"t"}}},
   {"data":{"values":[{"v":13.41,"age":-1.74,"t":"El Junico"},{"v":13.41,"age":-1.416,"t":"Eastern Pacific"}]},"mark":{"type":"text","font":"Liberation Sans","fontSize":23,"fontStyle":"italic","color":"#231f20","align":"center","baseline":"middle"},"encoding":{"text":{"field":"t"}}},
   {"data":{"values":[{"v":9.48,"age":-1.103,"t":"El Niño"}]},"mark":{"type":"text","font":"Liberation Sans","fontSize":15,"color":"#231f20","align":"center","baseline":"middle"},"encoding":{"text":{"field":"t"}}},
   {"data":{"values":[{"v":20.05,"age":-1.103,"t":"⟶"}]},"mark":{"type":"text","font":"DejaVu Sans","fontSize":24,"fontWeight":"bold","color":"#231f20","align":"center","baseline":"middle"},"encoding":{"text":{"field":"t"}}},
   {"data":{"values":[{"v":14.28,"age":-0.799,"t":"%Sand"}]},"mark":{"type":"text","font":"Liberation Sans","fontSize":23,"color":"#231f20","align":"center","baseline":"middle"},"encoding":{"text":{"field":"t"}}}
  ]},
 {"encoding":{"x":{"field":"v","type":"quantitative","scale":{"domain":[22,25],"range":[1075,1257.3],"nice":false,"zero":false},"axis":{"orient":"bottom","offset":-185.7,"values":[22,23,24,25],"tickSize":16,"labelPadding":5,"title":null}}},
  "layer":[
   {"data":{"name":"hc"},"mark":{"type":"line","color":"#1b93d0","strokeWidth":2.2},"encoding":{"order":{"field":"age","type":"quantitative"}}},
   {"data":{"name":"hc"},"mark":{"type":"point","shape":"M-1,0L1,0M0,-1L0,1","filled":false,"size":300,"strokeWidth":2,"color":"#1b93d0","opacity":1}},
   {"data":{"name":"hd"},"mark":{"type":"line","color":"#1b93d0","strokeWidth":2.2},"encoding":{"order":{"field":"age","type":"quantitative"}}},
   {"data":{"name":"hd"},"mark":{"type":"point","shape":"diamond","filled":true,"size":170,"color":"#1b93d0","opacity":1}},
   {"data":{"values":[{"v":23.481,"age":4.653,"t":"SST (°C)"}]},"mark":{"type":"text","font":"Liberation Sans","fontSize":23,"color":"#1b93d0","align":"center","baseline":"middle"},"encoding":{"text":{"field":"t"}}},
   {"data":{"values":[{"v":23.481,"age":4.997,"t":"E. Tropical Pacific"}]},"mark":{"type":"text","font":"Liberation Sans","fontSize":23,"fontStyle":"italic","color":"#1b93d0","align":"center","baseline":"middle"},"encoding":{"text":{"field":"t"}}},
   {"data":{"values":[{"v":23.481,"age":5.766,"t":"H"}]},"mark":{"type":"text","font":"Liberation Sans","fontSize":27,"fontWeight":"bold","color":"#231f20","align":"center","baseline":"middle"},"encoding":{"text":{"field":"t"}}}
  ]},
 {"encoding":{"x":{"field":"v","type":"quantitative","scale":{"domain":[-0.5,0.6],"range":[1176.7,1340.9],"nice":false,"zero":false},"axis":{"orient":"top","offset":-207.3,"values":[-0.5,-0.25,0,0.25,0.5],"labelExpr":"abs(datum.value) == 0.25 ? '' : (datum.value < 0 ? '-' : '') + format(abs(datum.value), '~g')","tickSize":12,"labelPadding":2,"title":null}}},
  "layer":[
   {"data":{"name":"ib"},"mark":{"type":"line","color":"#ae5a28","strokeWidth":2.5},"encoding":{"order":{"field":"age","type":"quantitative"}}},
   {"data":{"name":"ir"},"mark":{"type":"line","color":"#ed1c24","strokeWidth":2.5},"encoding":{"order":{"field":"age","type":"quantitative"}}},
   {"data":{"values":[{"v":0.214,"v2":0.665,"age":0.162,"age2":0.499},{"v":0.214,"v2":0.665,"age":0.668,"age2":1.072}]},"mark":{"type":"rect","fill":"#6d6e71","stroke":"#231f20","strokeWidth":2},"encoding":{"x2":{"field":"v2"},"y2":{"field":"age2"}}},
   {"data":{"values":[{"v":0.44,"age":0.331,"t":"LIA"}]},"mark":{"type":"text","font":"Liberation Sans","fontSize":17,"color":"#ffffff","align":"center","baseline":"middle"},"encoding":{"text":{"field":"t"}}},
   {"data":{"values":[{"v":0.44,"age":0.87,"t":"MCA"}]},"mark":{"type":"text","font":"Liberation Sans","fontSize":23,"color":"#ffffff","align":"center","baseline":"middle"},"encoding":{"text":{"field":"t"}}},
   {"data":{"values":[{"v":-0.0224,"age":-2.145,"t":"I"}]},"mark":{"type":"text","font":"Liberation Sans","fontSize":27,"fontWeight":"bold","color":"#231f20","align":"center","baseline":"middle"},"encoding":{"text":{"field":"t"}}},
   {"data":{"values":[{"v":-0.0224,"age":-1.699,"t":"Western Pacific"}]},"mark":{"type":"text","font":"Liberation Sans","fontSize":23,"fontStyle":"italic","color":"#ae5a28","align":"center","baseline":"middle"},"encoding":{"text":{"field":"t"}}},
   {"data":{"values":[{"v":0.011,"age":-0.84,"t":"SST Anomaly (°C)"}]},"mark":{"type":"text","font":"Liberation Sans","fontSize":23,"color":"#ae5a28","align":"center","baseline":"middle"},"encoding":{"text":{"field":"t"}}}
  ]}
],
"resolve":{"scale":{"x":"independent"},"axis":{"x":"independent","y":"independent"}}
}
